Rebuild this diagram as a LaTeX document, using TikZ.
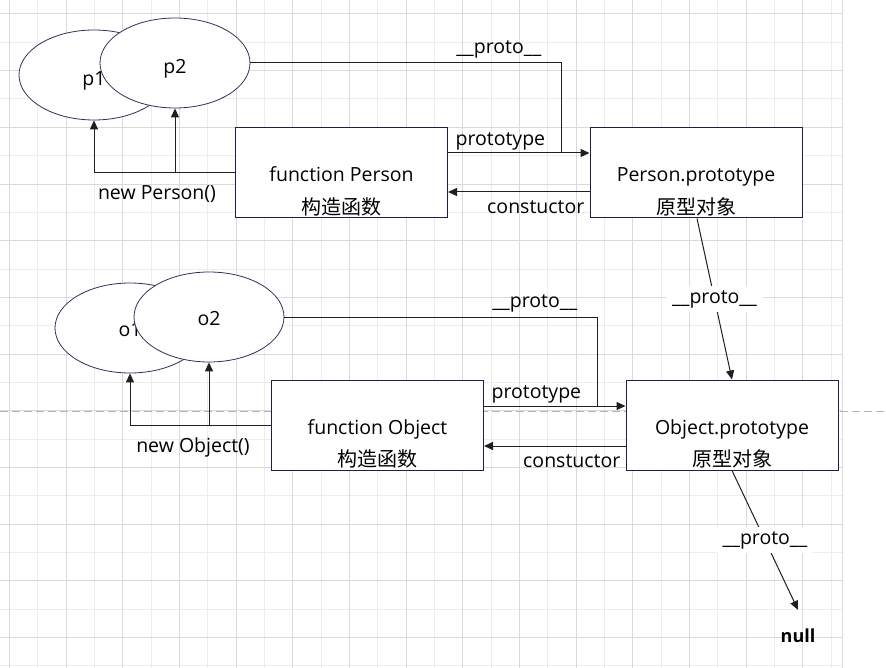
\documentclass[tikz,border=0pt]{standalone}
\usepackage{fontspec}
\setmainfont{Open Sans}
\newfontfamily\cjk{Noto Sans CJK SC}
\usepackage{tikz}
\usetikzlibrary{calc}
\usetikzlibrary{shapes}
\usetikzlibrary{positioning}
\usetikzlibrary{arrows.meta}
\definecolor{gridmajor}{HTML}{DADADA}
\definecolor{gridminor}{HTML}{EDEDED}
\definecolor{edgeblue}{HTML}{1C1F4C}
\definecolor{ringblue}{HTML}{2E3258}
\newcommand{\gridv}[2]{\draw[#1, line width=1pt] ( #2 , 0 ) -- ( #2 , 668 );}
\newcommand{\gridh}[2]{\draw[#1, line width=1pt] ( 0 , #2 ) -- ( 842 , #2 );}

\begin{document}
\begin{tikzpicture}[x=1pt, y=-1pt,
    font=\fontsize{19.5}{23}\selectfont,
    inst/.style={draw=ringblue, fill=white, ellipse, line width=0.8pt,
        minimum width=150pt, minimum height=90pt, inner sep=0pt,
        text height=22pt, text depth=0pt},
    func/.style={draw=edgeblue, fill=white, line width=1pt,
        minimum width=212pt, minimum height=90pt,
        text height=18pt, text depth=0pt},
    sub/.style={font=\cjk\fontsize{20}{23}\selectfont, inner ysep=2pt},
    link/.style={draw=black!88, line width=1pt, -{Triangle[length=9pt,width=8pt]}},
    plain/.style={draw=black!88, line width=1pt},
    tag/.style={inner sep=2pt}]
    \useasboundingbox (0,0) rectangle (886,668);
    % grid
    \foreach \i in {0,...,14} {\gridv{gridminor}{37.67+56.67*\i}}
    \foreach \i in {0,...,11} {\gridh{gridminor}{42.33+56.67*\i}}
    \foreach \i in {0,...,14} {\gridv{gridmajor}{9.33+56.67*\i}}
    \foreach \i in {0,...,11} {\gridh{gridmajor}{14+56.67*\i}}
    \gridv{gridmajor}{842}
    \draw[black!30, line width=1pt, dash pattern=on 8pt off 4pt] (0,411.5) -- (886,411.5);
    % person row
    \node[inst] (p1) at (94,75) {p1};
    \node[inst] (p2) at (175,63) {p2};
    \node[func] (fperson) at (341.5,173) {function Person};
    \node[sub, above=0pt of fperson.south] (fpersonsub) {构造函数};
    \node[func] (pproto) at (696,173) {Person.prototype};
    \node[sub, above=0pt of pproto.south] (pprotosub) {原型对象};
    \coordinate (pjoin) at (561,153);
    \draw[link] (fperson.west) -| (p1.south);
    \draw[link] (p2.south |- fperson.west) -- (p2.south);
    \node (newp) at (157,194) {new Person()};
    \draw[plain] (p2.east) -| (pjoin) node[tag, above=2pt, pos=0.4] {\_\_proto\_\_};
    \draw[link] ([yshift=20pt]fperson.east) -- ([yshift=20pt]pproto.west)
        node[tag, above, pos=0.37] {prototype};
    \draw[link] ([yshift=-19pt]pproto.west) -- ([yshift=-19pt]fperson.east)
        node[tag, below=6pt, pos=0.38] {constuctor};
    % object row
    \node[inst, text height=16pt] (o1) at (130,328) {o1};
    \node[inst, text height=16pt] (o2) at (209,317) {o2};
    \node[func] (fobject) at (377.5,425) {function Object};
    \node[sub, above=0pt of fobject.south] (fobjectsub) {构造函数};
    \node[func] (oproto) at (732,425) {Object.prototype};
    \node[sub, above=0pt of oproto.south] (oprotosub) {原型对象};
    \coordinate (ojoin) at (597.5,406);
    \draw[link] (fobject.west) -| (o1.south);
    \draw[link] (o2.south |- fobject.west) -- (o2.south);
    \node (newo) at (193,447) {new Object()};
    \draw[plain] (o2.east) -| (ojoin) node[tag, above=2pt, pos=0.4] {\_\_proto\_\_};
    \draw[link] ([yshift=19pt]fobject.east) -- ([yshift=19pt]oproto.west)
        node[tag, above, pos=0.37] {prototype};
    \draw[link] ([yshift=-21pt]oproto.west) -- ([yshift=-21pt]fobject.east)
        node[tag, below=6pt, pos=0.38] {constuctor};
    % chain
    \node[font=\bfseries\fontsize{18}{21}\selectfont, inner xsep=6pt, inner ysep=19pt] (null) at (798,636) {null};
    \draw[link] ([xshift=1pt]pproto.south) -- (oproto.north)
        node[tag, fill=white, midway, inner xsep=6pt, inner ysep=4pt] {\_\_proto\_\_};
    \draw[link] (oproto.south) -- (null.north)
        node[tag, fill=white, midway, inner xsep=6pt, inner ysep=4pt] {\_\_proto\_\_};
\end{tikzpicture}
\end{document}
